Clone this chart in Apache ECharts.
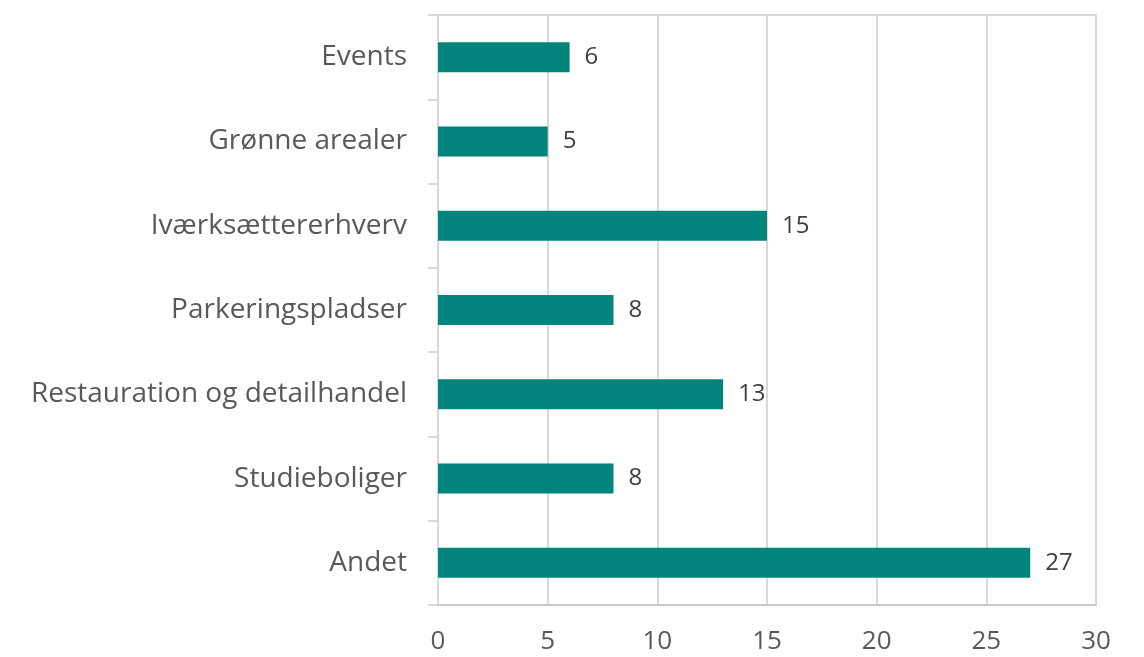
<!DOCTYPE html>
<html>
<head>
<meta charset="utf-8">
<script src="https://cdn.jsdelivr.net/npm/echarts@6/dist/echarts.min.js"></script>
<style>
html,body{margin:0;padding:0;background:#fff;}
#chart{width:1144px;height:657px;}
</style>
</head>
<body>
<div id="chart"></div>
<script>
var categories = ['Events','Grønne arealer','Iværksættererhverv','Parkeringspladser','Restauration og detailhandel','Studieboliger','Andet'];
var values = [6,5,15,8,13,8,27];
var xTicks = {min:0, max:30, interval:5};

var font = '"Open Sans", "Noto Sans", sans-serif';
var myChart = echarts.init(document.getElementById('chart'));
var option = {
  animation:false,
  grid:{left:438, right:48, top:15, bottom:52},
  xAxis:[{
    type:'value',
    min:xTicks.min, max:xTicks.max, interval:xTicks.interval,
    axisLine:{show:true, lineStyle:{color:'#c8c8c8', width:2}},
    axisTick:{show:false},
    axisLabel:{color:'#595959', fontSize:26, fontFamily:font, margin:24},
    splitLine:{show:true, lineStyle:{color:'#d9d9d9', width:2}}
  },{
    type:'value', position:'top',
    min:xTicks.min, max:xTicks.max, interval:xTicks.interval,
    axisLine:{show:true, lineStyle:{color:'#d9d9d9', width:2}},
    axisTick:{show:false}, axisLabel:{show:false}, splitLine:{show:false}
  }],
  yAxis:{
    type:'category',
    inverse:true,
    data:categories,
    axisLine:{show:true, lineStyle:{color:'#d9d9d9', width:2}},
    axisTick:{show:true, length:10, lineStyle:{color:'#d9d9d9', width:2}},
    axisLabel:{color:'#595959', fontSize:28, fontFamily:font, margin:31, padding:[5,0,0,0]}
  },
  series:[{
    type:'bar',
    xAxisIndex:0,
    data:values,
    barWidth:30,
    itemStyle:{color:'#00847c'},
    label:{show:true, position:'right', distance:15, color:'#404040', fontSize:24, fontFamily:font, padding:[10,0,0,0]}
  }]
};
myChart.setOption(option);
</script>
</body>
</html>
